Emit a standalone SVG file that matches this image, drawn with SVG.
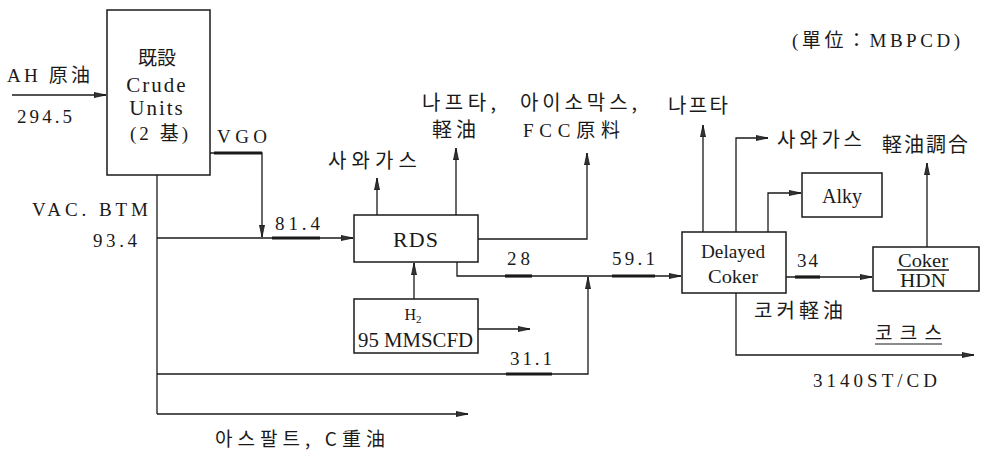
<svg xmlns="http://www.w3.org/2000/svg" width="983" height="450" viewBox="0 0 983 450">
<style>
text{font-family:"Liberation Serif","DejaVu Serif","Noto Sans CJK KR",serif;fill:#1a1a1a}
.kr{font-family:"Noto Sans CJK KR","Liberation Serif",sans-serif}
.box{fill:#fff;stroke:#1a1a1a;stroke-width:1.5}
.ln{fill:none;stroke:#1a1a1a;stroke-width:1.3}
.arr{marker-end:url(#ah)}
.thick{stroke:#1a1a1a;stroke-width:3.2}
</style>
<defs>
<marker id="ah" markerUnits="userSpaceOnUse" markerWidth="13" markerHeight="7" refX="12" refY="3.5" orient="auto">
<path d="M0,1 L12,3.5 L0,6 z" fill="#333" stroke="#111" stroke-width="0.8"/>
</marker>
</defs>
<rect width="983" height="450" fill="#fff"/>
<g id="connectors">
<path class="ln arr" d="M12,95 H106"/>
<path class="ln arr" d="M210,153 H262 V237"/>
<path class="ln" d="M157,175 V414"/>
<path class="ln arr" d="M157,238 H353"/>
<path class="ln arr" d="M157,374 H588 V277"/>
<path class="ln arr" d="M157,414 H468"/>
<path class="ln arr" d="M377,215 V178"/>
<path class="ln arr" d="M456,215 V148"/>
<path class="ln arr" d="M478,239 H587 V153"/>
<path class="ln arr" d="M457,262 V276 H681"/>
<path class="ln arr" d="M414,299 V263"/>
<path class="ln arr" d="M478,329 H530"/>
<path class="ln arr" d="M703,232 V125"/>
<path class="ln arr" d="M736,232 V138 H768"/>
<path class="ln arr" d="M768,232 V193 H801"/>
<path class="ln arr" d="M786,277 H872"/>
<path class="ln arr" d="M927,247 V163"/>
<path class="ln arr" d="M736,293 V355 H974"/>
<line class="thick" x1="214" y1="153" x2="262" y2="153"/>
<line class="thick" x1="272" y1="238" x2="320" y2="238"/>
<line class="thick" x1="506" y1="374" x2="552" y2="374"/>
<line class="thick" x1="505" y1="276" x2="532" y2="276"/>
<line class="thick" x1="612" y1="276" x2="655" y2="276"/>
<line class="thick" x1="795" y1="277" x2="820" y2="277"/>
</g>
<g id="crude">
<rect class="box" x="107" y="10" width="103" height="165"/>
<text class="kr" x="157" y="65" text-anchor="middle" font-size="19">既設</text>
<text x="157" y="92" text-anchor="middle" font-size="21" letter-spacing="2">Crude</text>
<text x="157" y="115" text-anchor="middle" font-size="21" letter-spacing="2">Units</text>
<text x="130" y="140" font-size="19" textLength="58" lengthAdjust="spacing">(2 <tspan class="kr">基</tspan>)</text>
</g>
<g id="rds">
<rect class="box" x="354" y="215" width="124" height="47"/>
<text x="416" y="247" text-anchor="middle" font-size="22" letter-spacing="1">RDS</text>
</g>
<g id="h2">
<rect class="box" x="354" y="299" width="124" height="54"/>
<text x="413" y="320" text-anchor="middle" font-size="16">H<tspan font-size="11" dy="3">2</tspan></text>
<text x="358" y="347" font-size="20" textLength="115" lengthAdjust="spacingAndGlyphs">95 MMSCFD</text>
</g>
<g id="coker">
<rect class="box" x="682" y="232" width="104" height="61"/>
<text x="733" y="258" text-anchor="middle" font-size="19" textLength="64" lengthAdjust="spacingAndGlyphs">Delayed</text>
<text x="733" y="283" text-anchor="middle" font-size="19" textLength="50" lengthAdjust="spacingAndGlyphs">Coker</text>
</g>
<g id="alky">
<rect class="box" x="802" y="173" width="80" height="44"/>
<text x="842" y="203" text-anchor="middle" font-size="20">Alky</text>
</g>
<g id="hdn">
<rect class="box" x="873" y="247" width="106" height="44"/>
<text x="923" y="267" text-anchor="middle" font-size="19" textLength="50" lengthAdjust="spacingAndGlyphs">Coker</text>
<line x1="897" y1="270" x2="949" y2="270" stroke="#1a1a1a" stroke-width="1.3"/>
<text x="923" y="287" text-anchor="middle" font-size="19" textLength="46" lengthAdjust="spacingAndGlyphs">HDN</text>
</g>
<g id="labels">
<text x="7" y="82" font-size="19" textLength="83" lengthAdjust="spacing">AH <tspan class="kr">原油</tspan></text>
<text x="17" y="123" font-size="19" textLength="55" lengthAdjust="spacing">294.5</text>
<text x="217" y="143" font-size="19" textLength="50" lengthAdjust="spacing">VGO</text>
<text x="32" y="216" font-size="19" textLength="116" lengthAdjust="spacing">VAC. BTM</text>
<text x="93" y="247" font-size="19" textLength="44" lengthAdjust="spacing">93.4</text>
<text x="275" y="230" font-size="19" textLength="45" lengthAdjust="spacing">81.4</text>
<text x="510" y="365" font-size="19" textLength="42" lengthAdjust="spacing">31.1</text>
<text x="507" y="265" font-size="19" textLength="23" lengthAdjust="spacing">28</text>
<text x="612" y="265" font-size="19" textLength="43" lengthAdjust="spacing">59.1</text>
<text x="797" y="267" font-size="19" textLength="21" lengthAdjust="spacing">34</text>
<text class="kr" x="215" y="446" font-size="19" textLength="170" lengthAdjust="spacing">아스팔트, C重油</text>
<text class="kr" x="328" y="168" font-size="20" textLength="89" lengthAdjust="spacing">사와가스</text>
<text class="kr" x="422" y="110" font-size="20" textLength="74" lengthAdjust="spacing">나프타,</text>
<text class="kr" x="432" y="137" font-size="20" textLength="44" lengthAdjust="spacing">軽油</text>
<text class="kr" x="520" y="110" font-size="20" textLength="117" lengthAdjust="spacing">아이소막스,</text>
<text x="523" y="137" font-size="19" textLength="97" lengthAdjust="spacing">FCC<tspan class="kr">原料</tspan></text>
<text class="kr" x="668" y="113" font-size="20" textLength="60" lengthAdjust="spacing">나프타</text>
<text class="kr" x="777" y="147" font-size="20" textLength="85" lengthAdjust="spacing">사와가스</text>
<text class="kr" x="882" y="152" font-size="20" textLength="86" lengthAdjust="spacing">軽油調合</text>
<text class="kr" x="754" y="318" font-size="20" textLength="89" lengthAdjust="spacing">코커軽油</text>
<text class="kr" x="875" y="340" font-size="19" textLength="67" lengthAdjust="spacing">코크스</text>
<line x1="875" y1="344" x2="942" y2="344" stroke="#1a1a1a" stroke-width="1.2"/>
<text x="813" y="387" font-size="19" textLength="124" lengthAdjust="spacing">3140ST/CD</text>
<text x="792" y="47" font-size="19" textLength="168" lengthAdjust="spacing">(<tspan class="kr">單位：</tspan>MBPCD)</text>
</g>
</svg>
